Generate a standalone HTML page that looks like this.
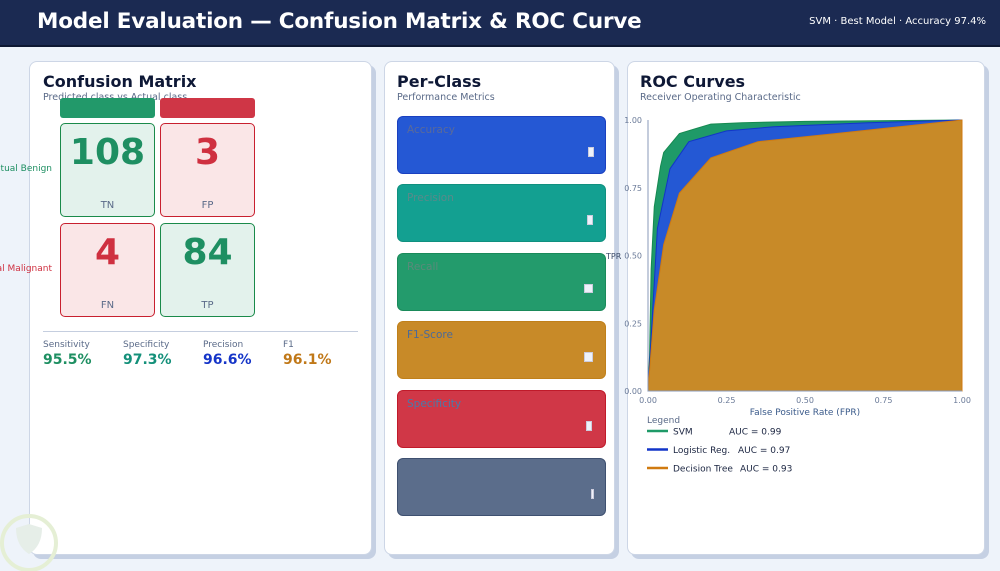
<!DOCTYPE html>
<html><head><meta charset="utf-8">
<style>
*{margin:0;padding:0;box-sizing:border-box}
body{width:1000px;height:571px;overflow:hidden;background:#eef3fa;font-family:"DejaVu Sans","Liberation Sans",sans-serif;position:relative}
.hdr{position:absolute;left:0;top:0;width:1000px;height:47px;background:#1b2a52;border-bottom:2px solid #0e1833}
.hdr h1{position:absolute;left:37px;top:9px;color:#fff;font-size:21.5px;font-weight:bold;letter-spacing:-0.2px}
.hdr .sub{position:absolute;right:14px;top:16px;color:#fff;font-size:10px}
.panel{position:absolute;background:#fff;border:1px solid #cdd6e6;border-radius:8px;box-shadow:4px 4px 0 #c5d0e3}
.pt{position:absolute;font-size:16px;font-weight:bold;color:#0e1836}
.ps{position:absolute;font-size:9.5px;color:#5a6a88}
.abs{position:absolute}
.card{position:absolute;left:12px;width:209px;height:58px;border-radius:6px;border:1px solid}
.card span{position:absolute;left:9px;top:7px;font-size:10.5px}
.card i{position:absolute;width:6px;height:10px;background:#eef2fa;border:1px solid #ccd}
</style></head><body>
<div class="hdr">
<h1>Model Evaluation — Confusion Matrix &amp; ROC Curve</h1>
<div class="sub">SVM · Best Model · Accuracy 97.4%</div>
</div>

<div class="panel" style="left:29px;top:61px;width:343px;height:494px">
<div class="pt" style="left:13px;top:10px">Confusion Matrix</div>
<div class="ps" style="left:13px;top:30px">Predicted class vs Actual class</div>
<div class="abs" style="left:30px;top:36px;width:95px;height:20px;background:#22996a;border-radius:3px"></div>
<div class="abs" style="left:130px;top:36px;width:95px;height:20px;background:#cf3646;border-radius:3px"></div>
<div class="abs" style="left:30px;top:61px;width:95px;height:94px;background:#e3f2ec;border:1.5px solid #1a8a4a;border-radius:5px">
<div style="position:absolute;width:100%;top:8px;text-align:center;font-size:36px;font-weight:bold;color:#1e8f62">108</div>
<div style="position:absolute;width:100%;top:76px;text-align:center;font-size:10px;color:#5a6a88">TN</div></div>
<div class="abs" style="left:130px;top:61px;width:95px;height:94px;background:#fae6e7;border:1.5px solid #c8202f;border-radius:5px">
<div style="position:absolute;width:100%;top:8px;text-align:center;font-size:36px;font-weight:bold;color:#cf3040">3</div>
<div style="position:absolute;width:100%;top:76px;text-align:center;font-size:10px;color:#5a6a88">FP</div></div>
<div class="abs" style="left:30px;top:161px;width:95px;height:94px;background:#fae6e7;border:1.5px solid #c8202f;border-radius:5px">
<div style="position:absolute;width:100%;top:8px;text-align:center;font-size:36px;font-weight:bold;color:#cf3040">4</div>
<div style="position:absolute;width:100%;top:76px;text-align:center;font-size:10px;color:#5a6a88">FN</div></div>
<div class="abs" style="left:130px;top:161px;width:95px;height:94px;background:#e3f2ec;border:1.5px solid #1a8a4a;border-radius:5px">
<div style="position:absolute;width:100%;top:8px;text-align:center;font-size:36px;font-weight:bold;color:#1e8f62">84</div>
<div style="position:absolute;width:100%;top:76px;text-align:center;font-size:10px;color:#5a6a88">TP</div></div>
<div class="abs" style="left:13px;top:269px;width:315px;height:1px;background:#c5cedf"></div>
<div class="abs" style="left:13px;top:278px;font-size:9px;color:#5a6a88">Sensitivity</div>
<div class="abs" style="left:13px;top:290px;font-size:14px;font-weight:bold;color:#1e8f62">95.5%</div>
<div class="abs" style="left:93px;top:278px;font-size:9px;color:#5a6a88">Specificity</div>
<div class="abs" style="left:93px;top:290px;font-size:14px;font-weight:bold;color:#14907a">97.3%</div>
<div class="abs" style="left:173px;top:278px;font-size:9px;color:#5a6a88">Precision</div>
<div class="abs" style="left:173px;top:290px;font-size:14px;font-weight:bold;color:#1535c8">96.6%</div>
<div class="abs" style="left:253px;top:278px;font-size:9px;color:#5a6a88">F1</div>
<div class="abs" style="left:253px;top:290px;font-size:14px;font-weight:bold;color:#c07818">96.1%</div>
</div>
<div class="abs" style="right:948px;top:164px;font-size:9px;color:#1e8f62;white-space:nowrap">Actual Benign</div>
<div class="abs" style="right:948px;top:264px;font-size:9px;color:#cf3040;white-space:nowrap">Actual Malignant</div>

<div class="panel" style="left:384px;top:61px;width:231px;height:494px">
<div class="pt" style="left:12px;top:10px">Per-Class</div>
<div class="ps" style="left:12px;top:30px">Performance Metrics</div>
<div class="card" style="top:54px;background:#2558d4;border-color:#1a40c0"><span style="color:#5a6a9a">Accuracy</span><i style="left:190px;top:30px"></i></div>
<div class="card" style="top:122px;background:#13a091;border-color:#10907f"><span style="color:#5a8a8a">Precision</span><i style="left:189px;top:30px"></i></div>
<div class="card" style="top:191px;background:#239b6c;border-color:#1a8a5a"><span style="color:#5a8a7a">Recall</span><i style="left:186px;top:30px;width:9px;height:9px"></i></div>
<div class="card" style="top:259px;background:#c88a28;border-color:#c0801a"><span style="color:#4a6a9a">F1-Score</span><i style="left:186px;top:30px;width:9px;height:10px"></i></div>
<div class="card" style="top:328px;background:#d03747;border-color:#c01a2a"><span style="color:#4a7aaa">Specificity</span><i style="left:188px;top:30px"></i></div>
<div class="card" style="top:396px;background:#5b6d8b;border-color:#3e5070"><i style="left:193px;top:30px;width:3px;height:10px"></i></div>
</div>

<div class="panel" style="left:627px;top:61px;width:358px;height:494px">
<div class="pt" style="left:12px;top:10px">ROC Curves</div>
<div class="ps" style="left:12px;top:30px">Receiver Operating Characteristic</div>
</div>
<svg id="roc" class="abs" style="left:0;top:0" width="1000" height="571"></svg>

<svg class="abs" style="left:0;top:510px" width="62" height="61">
<circle cx="29" cy="33" r="27" fill="none" stroke="#e5efd5" stroke-width="4"/>
<path d="M16 18 L29 14 L42 18 Q42 36 29 44 Q16 36 16 18Z" fill="#e6eee8"/>
</svg>

<script>
const fprSVM=[0,0.005,0.01,0.02,0.04,0.05,0.1,0.2,0.3,0.5,1];
const tprSVM=[0,0.13,0.45,0.68,0.83,0.88,0.95,0.985,0.99,0.995,1];
const fprLR=[0,0.01,0.03,0.07,0.13,0.25,0.4,0.7,1];
const tprLR=[0,0.2,0.6,0.82,0.92,0.96,0.975,0.99,1];
const fprDT=[0,0.02,0.05,0.1,0.2,0.35,0.6,1];
const tprDT=[0,0.3,0.54,0.73,0.86,0.92,0.95,1];
const ticks=[0,0.25,0.5,0.75,1];
const tickLabels=["0.00","0.25","0.50","0.75","1.00"];
const models=["SVM","Logistic Reg.","Decision Tree"];
const aucs=["0.99","0.97","0.93"];
const X0=648,X1=962,Y0=391,Y1=120;
const sx=v=>X0+v*(X1-X0), sy=v=>Y0-v*(Y0-Y1);
const svg=document.getElementById('roc');const NS='http://www.w3.org/2000/svg';
function mk(t,a){const e=document.createElementNS(NS,t);for(const k in a)e.setAttribute(k,a[k]);svg.appendChild(e);return e;}
const series=[[fprSVM,tprSVM,'#1f9a68','#168a50'],[fprLR,tprLR,'#2458d4','#1235c8'],[fprDT,tprDT,'#c88a28','#d07a10']];
const names=['svm-area','logistic-area','decision-tree-area'];
series.forEach((s,i)=>{
 let d='M'+sx(0)+','+sy(0);
 s[0].forEach((f,j)=>{d+=' L'+sx(f)+','+sy(s[1][j]);});
 d+=' L'+sx(1)+','+sy(0)+'Z';
 const p=mk('path',{d:d,fill:s[2],stroke:s[3],'stroke-width':1});
 
 
});
const ax=mk('path',{d:`M${X0},${Y1} L${X0},${Y0} L${X1},${Y0}`,fill:'none',stroke:'#8a9ab8','stroke-width':1});


ticks.forEach((t,i)=>{
 const a=mk('text',{x:X0-6,y:sy(t)+3,'text-anchor':'end','font-size':8,fill:'#6a7a98'});a.textContent=tickLabels[i];
 
 
 const b=mk('text',{x:sx(t),y:Y0+12,'text-anchor':'middle','font-size':8,fill:'#6a7a98'});b.textContent=tickLabels[i];
 
 
});
const xt=mk('text',{x:(X0+X1)/2,y:Y0+24,'text-anchor':'middle','font-size':9,fill:'#3a5a8a'});xt.textContent='False Positive Rate (FPR)';


const yt=mk('text',{x:606,y:259,'font-size':8,fill:'#3a4a68'});yt.textContent='TPR';


const lg=mk('text',{x:647,y:423,'font-size':9,fill:'#5a6a88'});lg.textContent='Legend';


const lc=['#1f9a68','#1235c8','#d07a10'];
models.forEach((m,i)=>{
 const y=431+i*18.5;
 const l=mk('line',{x1:647,x2:668,y1:y,y2:y,stroke:lc[i],'stroke-width':2.5});
 
 
 const t=mk('text',{x:673,y:y+3.5,'font-size':9,fill:'#1a2440'});t.textContent=m;
 
 
 const ax2=[729,738,740][i];
 const u=mk('text',{x:ax2,y:y+3.5,'font-size':9,fill:'#1a2440'});u.textContent='AUC = '+aucs[i];
 
 
});
</script>
</body></html>
